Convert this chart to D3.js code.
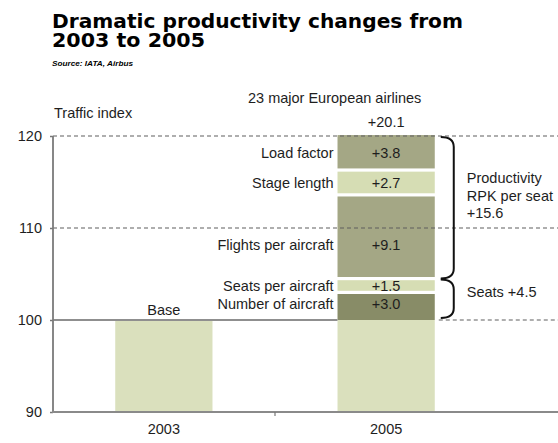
<!DOCTYPE html>
<html><head><meta charset="utf-8">
<script src="https://cdn.jsdelivr.net/npm/d3@7"></script>
<style>
body{margin:0;background:#fff}
svg{display:block}
text{font-family:"Liberation Sans",Arial,Helvetica,sans-serif;fill:#1e1e1e}
</style>
</head><body>
<svg id="c" width="558" height="443"></svg>
<script>
// ---------- data ----------
const categories = ["2003", "2005"];
const yTicks = [90, 100, 110, 120];
const baseValue = 100;
const segmentLabels = ["Number of aircraft", "Seats per aircraft", "Flights per aircraft", "Stage length", "Load factor"];
const segmentValues = [3.0, 1.5, 9.1, 2.7, 3.8];
const totalLabel = "+20.1";
const baseLabel = "Base";
const braceTexts = [["Seats +4.5"], ["Productivity", "RPK per seat", "+15.6"]];
const braceSegments = [[0, 1], [2, 4]];

// ---------- styles / layout ----------
const segColors = ["#888c67", "#d6ddb4", "#a4a785", "#d6ddb4", "#a4a785"];
const baseColor = "#dae0bd";
const labelNudge = {"Flights per aircraft": 8, "Number of aircraft": -2};
const fs = 14.5;

const svg = d3.select("#c");
const y = d3.scaleLinear().domain([90, 120]).range([412, 136]);
const x = d3.scaleBand().domain(categories).range([53, 497]).paddingInner(0.5625).paddingOuter(0.28);
const bw = x.bandwidth();

// title
const tFont = "'DejaVu Sans',sans-serif";
svg.append("text").attr("x", 52).attr("y", 28)
  .style("font-family", tFont).style("font-weight", "bold").style("font-size", "19.5px")
  .attr("textLength", 411).attr("lengthAdjust", "spacingAndGlyphs").style("fill", "#000")
  .text("Dramatic productivity changes from");
svg.append("text").attr("x", 52).attr("y", 46.5)
  .style("font-family", tFont).style("font-weight", "bold").style("font-size", "19.5px")
  .attr("textLength", 153).attr("lengthAdjust", "spacingAndGlyphs").style("fill", "#000")
  .text("2003 to 2005");
svg.append("text").attr("x", 52).attr("y", 66)
  .style("font-weight", "bold").style("font-style", "italic").style("font-size", "7.5px")
  .attr("textLength", 81).attr("lengthAdjust", "spacingAndGlyphs").style("fill", "#000")
  .text("Source: IATA, Airbus");

// axis titles
svg.append("text").attr("x", 54).attr("y", 113).attr("dy", "0.35em").style("font-size", fs + "px").text("Traffic index");
svg.append("text").attr("x", 248).attr("y", 98).attr("dy", "0.35em").style("font-size", fs + "px").text("23 major European airlines");

// base bars (90 -> 100) for both years
svg.selectAll("rect.base").data(categories).join("rect").attr("class", "base")
  .attr("x", d => x(d)).attr("width", bw)
  .attr("y", y(baseValue)).attr("height", y(90) - y(baseValue))
  .attr("fill", baseColor);

// stacked segments for 2005
let cum = baseValue;
const segs = segmentValues.map((v, i) => { const s = {i, label: segmentLabels[i], v, y0: cum, y1: cum + v}; cum += v; return s; });
const total = cum;
const gap = 1.6;
const x05 = x("2005");
svg.selectAll("rect.seg").data(segs).join("rect").attr("class", "seg")
  .attr("x", x05).attr("width", bw)
  .attr("y", d => y(d.y1) + (d.i === segs.length - 1 ? 0 : gap))
  .attr("height", d => (y(d.y0) - y(d.y1)) - (d.i === 0 ? 0 : gap) - (d.i === segs.length - 1 ? 0 : gap))
  .attr("fill", d => segColors[d.i]);

// gridlines
const dash = "4,3";
[110, 120].forEach(t => {
  svg.append("line").attr("x1", 53).attr("x2", 558).attr("y1", y(t)).attr("y2", y(t))
    .attr("stroke", "#5e5e5e").attr("stroke-width", 1.2).attr("stroke-dasharray", dash);
});
svg.append("line").attr("x1", 53).attr("x2", x05).attr("y1", y(100)).attr("y2", y(100))
  .attr("stroke", "#8f8f8f").attr("stroke-width", 2);
svg.append("line").attr("x1", x05 + bw + 4).attr("x2", 558).attr("y1", y(100)).attr("y2", y(100))
  .attr("stroke", "#5e5e5e").attr("stroke-width", 1.2).attr("stroke-dasharray", dash);

// y axis
const yAxis = d3.axisLeft(y).tickValues(yTicks).tickSize(3).tickPadding(8).tickFormat(d3.format("d"));
const gy = svg.append("g").attr("transform", "translate(53,0)").call(yAxis);
gy.select(".domain").remove();
gy.selectAll(".tick line").attr("stroke", "#777").attr("stroke-width", 1.5);
gy.selectAll(".tick text").style("font-size", fs + "px").style("font-family", "'Liberation Sans',Arial,sans-serif").attr("fill", "#1e1e1e");
svg.append("line").attr("x1", 53).attr("x2", 53).attr("y1", y(120)).attr("y2", y(90) + 1)
  .attr("stroke", "#7a7a7a").attr("stroke-width", 1.8);

// x axis
svg.append("line").attr("x1", 52).attr("x2", 558).attr("y1", y(90)).attr("y2", y(90))
  .attr("stroke", "#8a8a8a").attr("stroke-width", 2);
const xAxis = d3.axisBottom(x).tickSize(0).tickPadding(12);
const gx = svg.append("g").attr("transform", `translate(0,${y(90)})`).call(xAxis);
gx.select(".domain").remove();
gx.selectAll(".tick text").style("font-size", fs + "px").style("font-family", "'Liberation Sans',Arial,sans-serif").attr("fill", "#1e1e1e");
const boundary = (x(categories[0]) + bw + x(categories[1])) / 2;
svg.append("line").attr("x1", boundary).attr("x2", boundary).attr("y1", y(90)).attr("y2", y(90) + 4)
  .attr("stroke", "#777").attr("stroke-width", 1.2);

// segment labels
svg.selectAll("text.seglab").data(segs).join("text").attr("class", "seglab")
  .attr("x", x05 - 4).attr("text-anchor", "end")
  .attr("y", d => (y(d.y0) + y(d.y1)) / 2 + (labelNudge[d.label] || 0)).attr("dy", "0.35em")
  .style("font-size", fs + "px").text(d => d.label);
svg.selectAll("text.segval").data(segs).join("text").attr("class", "segval")
  .attr("x", x05 + bw / 2).attr("text-anchor", "middle")
  .attr("y", d => (y(d.y0) + y(d.y1)) / 2 + (labelNudge[d.label] || 0)).attr("dy", "0.35em")
  .style("font-size", fs + "px").text(d => "+" + d3.format(".1f")(d.v));

// base & total labels
svg.append("text").attr("x", x("2003") + bw / 2).attr("y", y(baseValue) - 10).attr("dy", "0.35em")
  .attr("text-anchor", "middle").style("font-size", fs + "px").text(baseLabel);
svg.append("text").attr("x", x05 + bw / 2).attr("y", y(total) - 13).attr("dy", "0.35em")
  .attr("text-anchor", "middle").style("font-size", fs + "px").text(totalLabel);

// braces
const bx0 = x05 + bw + 6, bx1 = x05 + bw + 19, r = 10;
const textNudge = [-7, -12];
braceSegments.forEach((span, k) => {
  const top = k === braceSegments.length - 1 ? y(120) + 1 : y(segs[span[1]].y1) + 1;
  const bot = k === 0 ? y(segs[span[0]].y0) - 2 : y(segs[span[0]].y0);
  svg.append("path")
    .attr("d", `M${bx0},${top} Q${bx1},${top} ${bx1},${top + r} L${bx1},${bot - r} Q${bx1},${bot} ${bx0},${bot}`)
    .attr("fill", "none").attr("stroke", "#111").attr("stroke-width", 2);
  const mid = (top + bot) / 2 + textNudge[k];
  const lines = braceTexts[k];
  const lh = 17.5;
  lines.forEach((t, j) => {
    svg.append("text").attr("x", bx1 + 13)
      .attr("y", mid + (j - (lines.length - 1) / 2) * lh).attr("dy", "0.35em")
      .style("font-size", fs + "px").text(t);
  });
});
</script>
</body></html>
